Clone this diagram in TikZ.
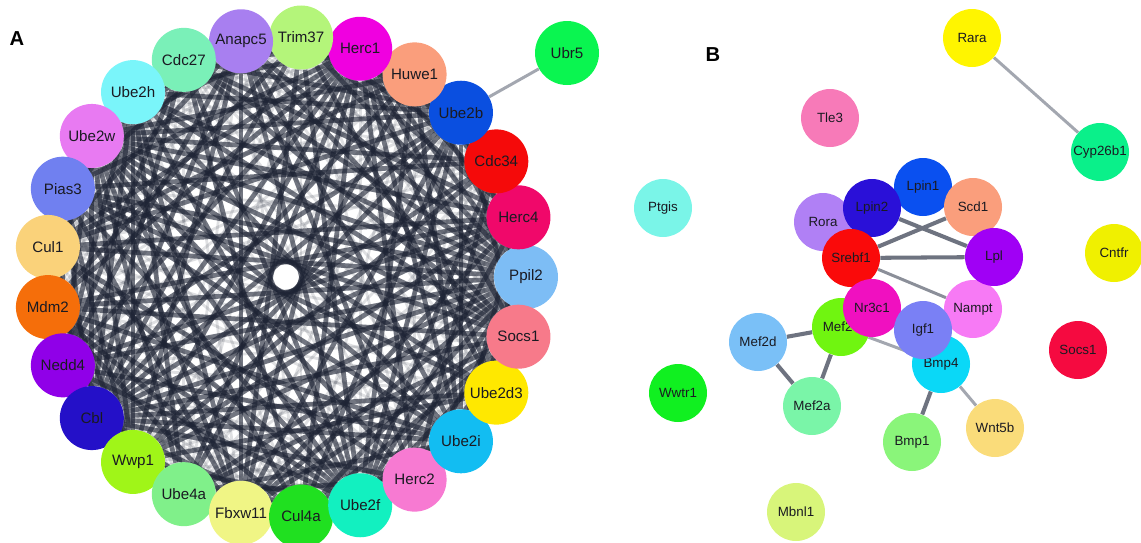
\documentclass[tikz,border=0pt]{standalone}
\usepackage{fontspec}
\setmainfont{Liberation Sans}
\pgfdeclarelayer{bg}
\pgfsetlayers{bg,main}
\definecolor{edgeA}{HTML}{1C2233}
\definecolor{edgeDark}{HTML}{6E7380}
\definecolor{edgeLight}{HTML}{A3A7B0}
\definecolor{txt}{HTML}{1A1A22}
\begin{document}
\begin{tikzpicture}[x=0.02cm,y=-0.02cm,
  anode/.style={circle, minimum size=1.28cm, inner sep=0pt, text=txt,
    font=\fontsize{8.6}{10}\selectfont},
  bnode/.style={circle, minimum size=1.16cm, inner sep=0pt, text=txt,
    font=\fontsize{7.6}{9}\selectfont},
  aedge/.style={line width=2.7pt, draw=edgeA, draw opacity=0.62},
  afaint/.style={line width=1.6pt, draw=edgeA, draw opacity=0.14},
  bthick/.style={line width=2.3pt, draw=edgeDark},
  bthin/.style={line width=1.7pt, draw=edgeLight},
  panel/.style={font=\fontsize{11.5}{12}\selectfont\bfseries, text=black}]
\useasboundingbox (0,0) rectangle (1141,542);
% ---------------- Panel A ----------------
\node[panel] (labA) at (17,39) {A};
\foreach \i/\name/\col in {
  0/Ppil2/7DBDF5, 1/Herc4/F0086A, 2/Cdc34/F50A0A, 3/Ube2b/0A4FE0,
  4/Huwe1/FA9E7C, 5/Herc1/F000E0, 6/Trim37/B4F57A, 7/Anapc5/A87FF0,
  8/Cdc27/7AF0B8, 9/Ube2h/7AF5FA, 10/Ube2w/E87AF2, 11/Pias3/7080F0,
  12/Cul1/FAD27A, 13/Mdm2/F56E0A, 14/Nedd4/9000E8, 15/Cbl/2410C8,
  16/Wwp1/A0F518, 17/Ube4a/80F08A, 18/Fbxw11/F0F585, 19/Cul4a/20E020,
  20/Ube2f/12F0C0, 21/Herc2/F77AD2, 22/Ube2i/12BDF2, 23/Ube2d3/FFE800,
  24/Socs1/F77A8A}{
  \definecolor{tmpc}{HTML}{\col}
  \node[anode, fill=tmpc] (a\i) at ({286+240*cos(\i*14.4)},{277-240*sin(\i*14.4)}) {\name};
}
\definecolor{cUbr5}{HTML}{0AF550}
\node[anode, fill=cUbr5] (ubr5) at (567,53) {Ubr5};
\begin{pgfonlayer}{bg}
\foreach \i in {0,...,23}{
  \pgfmathtruncatemacro{\s}{\i+1}
  \foreach \j in {\s,...,24}{
    \pgfmathtruncatemacro{\h}{mod(\i*\i*7+\j*\j*3+\i*\j*11+\j*5+3,10)}
    \ifnum\h<7
      \draw[aedge] (a\i) -- (a\j);
    \else
      \draw[afaint] (a\i) -- (a\j);
    \fi
  }
}
\draw[bthin] (a3) -- (ubr5);
\end{pgfonlayer}
% ---------------- Panel B ----------------
\node[panel] (labB) at (713,55) {B};
\foreach \n/\x/\y/\col/\lab in {
  rara/972/38/FFF500/Rara, tle/830/118/F77AB8/Tle3, cyp/1100/152/0AF08A/Cyp26b1,
  ptgis/663/208/7AF5E8/Ptgis, rora/823/222/B080F5/Rora, lpin1/923/187/0A50F0/Lpin1,
  lpintwo/872/208/2A10D8/Lpin2, scd/973/207/FA9E7C/Scd1, srebf/851/258/FA0A0A/Srebf1,
  nampt/973/309/F77AF5/Nampt, lpl/994/257/A000F5/Lpl, cntfr/1114/253/F0F000/Cntfr,
  mefc/841/327/70F510/Mef2c, nr/872/308/F010C0/Nr3c1, mefd/758/342/7AC0F7/Mef2d,
  bmpf/941/364/0AD8F7/Bmp4, igf/923/330/7A80F5/Igf1, socsb/1078/350/F50A40/Socs1,
  wwtr/678/393/10F020/Wwtr1, mefa/812/406/7AF5A8/Mef2a, bmpo/912/442/8AF57A/Bmp1,
  wnt/995/428/FADC7A/Wnt5b, mbnl/796/512/D8F57A/Mbnl1}{
  \definecolor{tmpc}{HTML}{\col}
  \node[bnode, fill=tmpc] (\n) at (\x,\y) {\lab};
}
\begin{pgfonlayer}{bg}
\draw[bthin] (rara) -- (cyp);
\draw[bthick] (lpintwo) -- (lpl);
\draw[bthick] (srebf) -- (scd);
\draw[bthick] (srebf) -- (lpl);
\draw[bthin, draw=edgeDark!80!white] (srebf) -- (nampt);
\draw[bthick] (mefd) -- (mefc);
\draw[bthick] (mefd) -- (mefa);
\draw[bthick] (mefc) -- (mefa);
\draw[bthin] (mefc) -- (bmpf);
\draw[bthick] (bmpf) -- (bmpo);
\draw[bthin] (bmpf) -- (wnt);
\end{pgfonlayer}
\end{tikzpicture}
\end{document}
